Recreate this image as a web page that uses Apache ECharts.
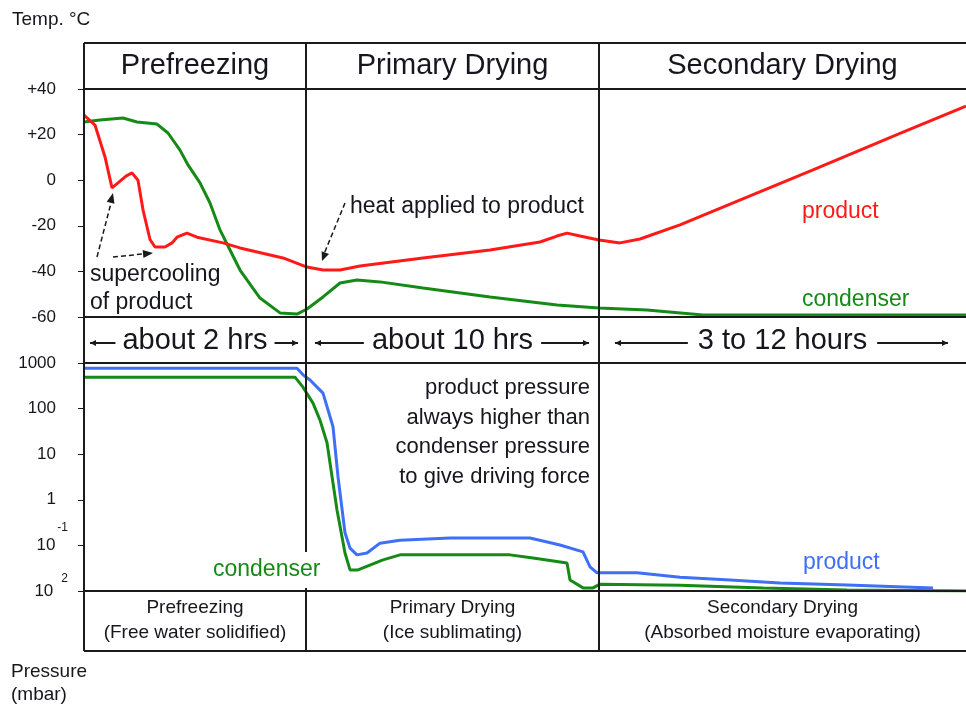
<!DOCTYPE html>
<html>
<head>
<meta charset="utf-8">
<title>Freeze drying cycle</title>
<script src="https://cdn.jsdelivr.net/npm/echarts@6/dist/echarts.min.js"></script>
<style>
  html, body { margin: 0; padding: 0; background: #fff; }
  #chart { width: 966px; height: 706px; }
</style>
</head>
<body>
<div id="chart"></div>
<script>
// phases across the table (time in arbitrary units, not to scale)
const phaseNames = ['Prefreezing', 'Primary Drying', 'Secondary Drying']
const phaseDurations = ['about 2 hrs', 'about 10 hrs', '3 to 12 hours']
const phaseNotes = [
  ['Prefreezing', '(Free water solidified)'],
  ['Primary Drying', '(Ice sublimating)'],
  ['Secondary Drying', '(Absorbed moisture evaporating)']
]
const phaseBounds = [0, 22.2, 51.5, 88.2]

// tick labels
const tempTicks = [40, 20, 0, -20, -40, -60]
const tempTickLabels = ['+40', '+20', '0', '-20', '-40', '-60']
const pressureTicks = [1000, 100, 10, 1, 0.1, 0.01]
const pressureTickLabels = ['{n|1000}', '{n|100}', '{n|10}', '{n|1}', '{b|10}{s|-1}', '{b|10}{t|2}']

// temperature, degC  [time, value]
const productTemp = [
  [0, 28.5], [1.1, 24.2], [2.1, 10.2], [2.8, -3.4], [3.4, -1.2], [4.2, 1.8], [4.8, 3.2],
  [5.4, 0], [5.9, -13], [6.6, -26], [7.1, -29.3], [8.1, -29.3], [8.8, -27.5], [9.3, -25],
  [10.3, -23.2], [11.3, -25], [13.9, -27.5], [15.6, -29.7], [19.9, -34.1], [22.3, -38.1],
  [23.9, -39.4], [25.6, -39.4], [27.6, -37.6], [33.9, -34.1], [40.6, -30.6], [45.6, -27.1],
  [47.3, -24.5], [48.3, -23.2], [49.6, -24.5], [51.5, -26.2], [53.6, -27.5], [55.6, -25.8],
  [59.6, -19.6], [66.3, -7.4], [72.9, 4.5], [81.6, 20.5], [88.2, 32.5]
]
const condenserTemp = [
  [0, 25.5], [1.6, 26.4], [3.9, 27.3], [5.3, 25.5], [7.3, 24.6], [8.4, 20.7], [9.6, 13.2],
  [10.4, 6.7], [11.6, -1.2], [12.6, -10], [13.6, -21.8], [14.6, -30.6], [15.6, -39.4],
  [17.6, -51.7], [19.6, -58.2], [21.3, -58.7], [22.3, -56.5], [23.9, -51.2], [25.6, -45.1],
  [27.3, -43.8], [29.6, -44.6], [33.9, -47.3], [40.6, -51.2], [47.3, -54.7], [51.5, -56],
  [56.3, -56.9], [61.9, -59.1], [88.2, -59.1]
]

// pressure, mbar  [time, value]
const productPressure = [
  [0, 770], [21.3, 770], [21.9, 550], [22.6, 425], [23.9, 219], [24.9, 40], [25.4, 3.2],
  [26.1, 0.19], [26.6, 0.087], [27.3, 0.062], [28.3, 0.068], [29.6, 0.112], [31.6, 0.13],
  [36.6, 0.145], [44.6, 0.145], [47.6, 0.102], [49.9, 0.072], [50.6, 0.034], [51.3, 0.025],
  [55.3, 0.025], [59.6, 0.02], [64.6, 0.0174], [69.6, 0.015], [76.3, 0.0136], [84.9, 0.0117]
]
const condenserPressure = [
  [0, 490], [21.1, 490], [21.9, 295], [22.9, 132], [23.6, 56], [24.3, 17.8], [25.3, 0.6],
  [26.1, 0.068], [26.6, 0.029], [27.4, 0.029], [27.9, 0.032], [29.9, 0.048], [31.6, 0.062],
  [42.6, 0.062], [44.9, 0.053], [48.3, 0.041], [48.6, 0.0174], [49.9, 0.0117], [50.9, 0.0117],
  [51.6, 0.0141], [59.6, 0.0134], [67.9, 0.0117], [76.3, 0.0105], [88.2, 0.01]
]

const W = 966
const FONT = '"Liberation Sans", Arial, sans-serif'
const INK = '#16161e'
const FRAME = '#1a1a1a'
const RED = '#ff1a1a'
const GREEN = '#168a16'
const BLUE = '#3f6ff5'

// table rows
const headerTop = 43
const tempTop = 89, tempBottom = 317
const presTop = 363, presBottom = 591
const footerBottom = 651

const chart = echarts.init(document.getElementById('chart'))

function lineSeries(name, data, color, xi, yi, z) {
  return {
    name: name,
    type: 'line',
    xAxisIndex: xi,
    yAxisIndex: yi,
    data: data,
    showSymbol: false,
    symbol: 'none',
    silent: true,
    z: z,
    lineStyle: { color: color, width: 3 },
    itemStyle: { color: color }
  }
}

chart.setOption({
  animation: false,
  textStyle: { fontFamily: FONT },
  grid: [
    { left: 84, top: tempTop, width: W - 84, height: tempBottom - tempTop },
    { left: 84, top: presTop, width: W - 84, height: presBottom - presTop }
  ],
  xAxis: [
    { type: 'value', gridIndex: 0, min: phaseBounds[0], max: phaseBounds[3], show: false },
    { type: 'value', gridIndex: 1, min: phaseBounds[0], max: phaseBounds[3], show: false }
  ],
  yAxis: [
    {
      type: 'value',
      gridIndex: 0,
      min: -60,
      max: 40,
      interval: 20,
      splitLine: { show: false },
      axisLine: { show: true, lineStyle: { color: FRAME, width: 2 } },
      axisTick: { show: true, length: 6, lineStyle: { color: FRAME } },
      axisLabel: {
        margin: 28,
        fontSize: 17,
        color: INK,
        formatter: function (v) {
          const i = tempTicks.indexOf(v)
          return i >= 0 ? tempTickLabels[i] : ''
        }
      }
    },
    {
      type: 'log',
      gridIndex: 1,
      logBase: 10,
      min: 0.01,
      max: 1000,
      splitLine: { show: false },
      axisLine: { show: true, lineStyle: { color: FRAME, width: 2 } },
      axisTick: { show: true, length: 6, lineStyle: { color: FRAME } },
      axisLabel: {
        margin: 16,
        color: INK,
        formatter: function (v) {
          let best = 0, d = 99
          pressureTicks.forEach(function (p, i) {
            const dd = Math.abs(Math.log10(p) - Math.log10(v))
            if (dd < d) { d = dd; best = i }
          })
          return d < 0.01 ? pressureTickLabels[best] : ''
        },
        rich: {
          n: { fontSize: 17, color: INK, fontFamily: FONT, padding: [0, 12, 0, 0] },
          b: { fontSize: 17, color: INK, fontFamily: FONT },
          s: { fontSize: 12, color: INK, fontFamily: FONT, padding: [0, 0, 36, 2] },
          t: { fontSize: 12, color: INK, fontFamily: FONT, padding: [0, 0, 24, 8] }
        }
      }
    }
  ],
  series: [
    lineSeries('condenser', condenserTemp, GREEN, 0, 0, 2),
    lineSeries('product', productTemp, RED, 0, 0, 3),
    lineSeries('condenser pressure', condenserPressure, GREEN, 1, 1, 2),
    lineSeries('product pressure', productPressure, BLUE, 1, 1, 3)
  ]
})

// ---- table frame and annotations ----
const xs = phaseBounds.map(function (t) { return chart.convertToPixel({ xAxisIndex: 0 }, t) })
xs[3] = W

function seg(x1, y1, x2, y2, dash) {
  return {
    type: 'line',
    silent: true,
    z: 10,
    shape: { x1: x1, y1: y1, x2: x2, y2: y2 },
    style: { stroke: FRAME, lineWidth: dash ? 1.5 : 2, lineDash: dash || null }
  }
}
function head(x1, y1, x2, y2, len, half) {
  const a = Math.atan2(y2 - y1, x2 - x1)
  const c = Math.cos(a), s = Math.sin(a)
  const bx = x2 - c * len, by = y2 - s * len
  return {
    type: 'polygon',
    silent: true,
    z: 10,
    shape: { points: [[x2, y2], [bx - s * half, by + c * half], [bx + s * half, by - c * half]] },
    style: { fill: FRAME }
  }
}
function txt(text, x, y, size, color, align) {
  return {
    type: 'text',
    silent: true,
    z: 11,
    style: {
      text: text, x: x, y: y,
      fill: color || INK,
      font: size + 'px ' + FONT,
      align: align || 'center', textAlign: align || 'center',
      verticalAlign: 'middle', textVerticalAlign: 'middle'
    }
  }
}

const g = []
// horizontal rules
;[headerTop, tempTop, tempBottom, presTop, presBottom, footerBottom].forEach(function (y) {
  g.push(seg(xs[0], y, W, y))
})
// vertical rules (the first divider breaks for the condenser label)
g.push(seg(xs[0], headerTop, xs[0], footerBottom))
g.push(seg(xs[1], headerTop, xs[1], 552))
g.push(seg(xs[1], 588, xs[1], footerBottom))
g.push(seg(xs[2], headerTop, xs[2], footerBottom))

// header, duration row, footer
const arrowInsetL = [6, 9, 16], arrowInsetR = [8, 10, 18], arrowGap = [7, 8, 10]
const meas = document.createElement('canvas').getContext('2d')
meas.font = '29px ' + FONT
for (let i = 0; i < 3; i++) {
  const cx = (xs[i] + xs[i + 1]) / 2
  g.push(txt(phaseNames[i], cx, 66, 29))
  g.push(txt(phaseDurations[i], cx, 341, 29))
  const half = meas.measureText(phaseDurations[i]).width / 2
  const yA = 343
  const l1 = xs[i] + arrowInsetL[i], l2 = cx - half - arrowGap[i]
  const r1 = cx + half + arrowGap[i], r2 = xs[i + 1] - arrowInsetR[i]
  g.push(seg(l2, yA, l1, yA), head(l2, yA, l1, yA, 6, 3))
  g.push(seg(r1, yA, r2, yA), head(r1, yA, r2, yA, 6, 3))
  g.push(txt(phaseNotes[i][0], cx, 608, 19))
  g.push(txt(phaseNotes[i][1], cx, 633, 19))
}

// axis titles
g.push(txt('Temp. °C', 12, 20, 19, INK, 'left'))
g.push(txt('Pressure', 11, 672, 19, INK, 'left'))
g.push(txt('(mbar)', 11, 695, 19, INK, 'left'))

// annotations
g.push(txt('heat applied to product', 350, 207, 23, INK, 'left'))
g.push(seg(345, 203, 324, 254, [5, 3]), head(345, 203, 322, 261, 9, 4))
g.push(txt('supercooling', 90, 275, 23, INK, 'left'))
g.push(txt('of product', 90, 303, 23, INK, 'left'))
g.push(seg(97, 257, 111, 203, [5, 3]), head(97, 257, 113, 193, 10, 4))
g.push(seg(113, 257, 143, 254, [5, 3]), head(113, 257, 153, 253, 10, 4))
g.push(txt('product', 802, 212, 23, RED, 'left'))
g.push(txt('condenser', 802, 300, 23, GREEN, 'left'))
g.push(txt('condenser', 213, 570, 23, GREEN, 'left'))
g.push(txt('product', 803, 563, 23, BLUE, 'left'))
const note = ['product pressure', 'always higher than', 'condenser pressure', 'to give driving force']
note.forEach(function (s, i) { g.push(txt(s, 590, 388 + i * 29.5, 22, INK, 'right')) })

chart.setOption({ graphic: g })
</script>
</body>
</html>
